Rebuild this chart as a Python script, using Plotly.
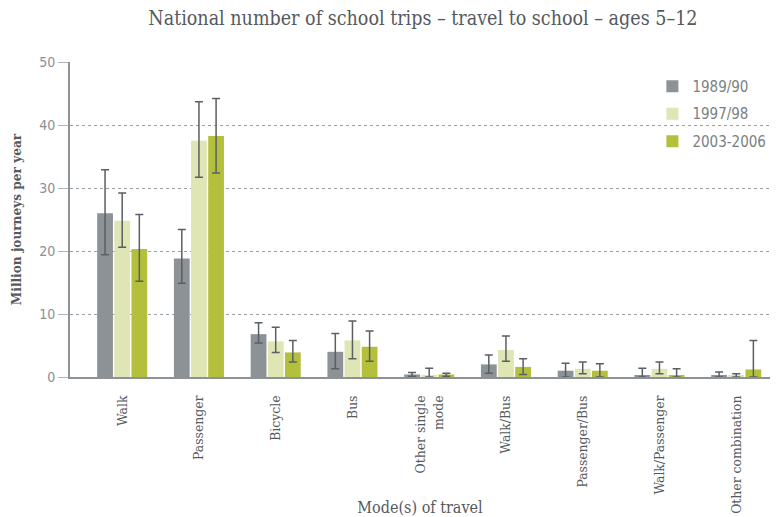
import plotly.graph_objects as go

categories = ["Walk", "Passenger", "Bicycle", "Bus", "Other single<br>mode", "Walk/Bus",
              "Passenger/Bus", "Walk/Passenger", "Other combination"]
series_names = ["1989/90", "1997/98", "2003-2006"]

v1989 = [26.0, 18.8, 6.8, 4.0, 0.4, 2.0, 1.0, 0.3, 0.2]
hi1989 = [32.9, 23.4, 8.6, 6.9, 0.7, 3.5, 2.2, 1.4, 0.8]
lo1989 = [19.4, 14.9, 5.4, 1.3, 0.1, 0.6, 0.0, 0.0, 0.0]

v1997 = [24.8, 37.5, 5.65, 5.8, 0.2, 4.3, 1.3, 1.3, 0.2]
hi1997 = [29.2, 43.7, 7.9, 8.9, 1.4, 6.5, 2.4, 2.4, 0.5]
lo1997 = [20.6, 31.7, 3.9, 2.9, 0.0, 2.5, 0.5, 0.5, 0.0]

v2003 = [20.3, 38.25, 3.9, 4.8, 0.4, 1.6, 1.0, 0.3, 1.2]
hi2003 = [25.8, 44.2, 5.8, 7.3, 0.6, 2.9, 2.1, 1.3, 5.8]
lo2003 = [15.2, 32.4, 2.4, 2.5, 0.1, 0.4, 0.0, 0.0, 0.0]

y_ticks = [0, 10, 20, 30, 40, 50]
colors = ["#8c9296", "#dfe5b4", "#b4bf3c"]

fig = go.Figure()
for name, vals, hi, lo, col in zip(series_names, [v1989, v1997, v2003],
                                   [hi1989, hi1997, hi2003], [lo1989, lo1997, lo2003], colors):
    fig.add_trace(go.Bar(
        name=name, x=list(range(len(categories))), y=vals, marker_color=col,
        marker_line_width=0, legendgroup=name,
        error_y=dict(type="data", symmetric=False,
                     array=[h - v for h, v in zip(hi, vals)],
                     arrayminus=[v - l for v, l in zip(vals, lo)],
                     color="#5a5f63", thickness=1.5, width=4),
    ))

font_serif = "DejaVu Serif Condensed, DejaVu Serif, serif"
fig.update_layout(
    width=776, height=517,
    margin=dict(l=70, r=6, t=62, b=140, autoexpand=False),
    paper_bgcolor="white", plot_bgcolor="white",
    barmode="group", bargap=0.33, bargroupgap=0.08,
    title=dict(text="National number of school trips – travel to school – ages 5–12",
               x=0.545, xanchor="center", y=0.965, yanchor="middle",
               font=dict(family=font_serif, size=19.5, color="#555a5e")),
    legend=dict(x=0.832, y=0.975, xanchor="left", yanchor="top", bgcolor="rgba(0,0,0,0)",
                font=dict(family="DejaVu Sans Condensed, DejaVu Sans", size=15, color="#7a7f83"),
                itemwidth=30, tracegroupgap=5),
    showlegend=True,
)
fig.update_xaxes(
    tickmode="array", tickvals=list(range(len(categories))), ticktext=categories,
    tickangle=-90, range=[-0.68, 8.44], automargin=False,
    tickfont=dict(family=font_serif, size=13.8, color="#555a5e"),
    showline=True, linecolor="#8c9296", linewidth=2, ticks="", showgrid=False,
    ticklabelstandoff=11,
    title=dict(text="Mode(s) of travel", font=dict(family=font_serif, size=16, color="#555a5e"),
               standoff=10),
)
fig.update_yaxes(
    range=[0, 50], tickvals=y_ticks, automargin=False,
    tickfont=dict(family="DejaVu Sans Condensed, DejaVu Sans", size=14, color="#8a8f93"),
    showline=True, linecolor="#8c9296", linewidth=2,
    showgrid=True, gridcolor="#9a9fa3", griddash="dot", gridwidth=1.3,
    zeroline=False, ticks="outside", ticklen=10, tickcolor="#b0b4b8",
    title=dict(text="<b>Million journeys per year</b>",
               font=dict(family=font_serif, size=13.5, color="#555a5e"), standoff=14),
)
fig.write_html("out.html")
